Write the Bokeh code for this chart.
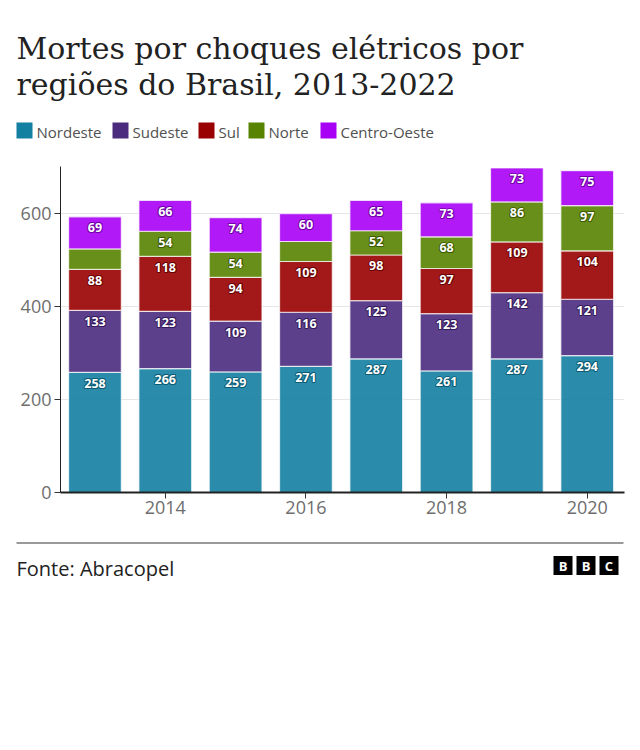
import numpy as np
from bokeh.plotting import figure
from bokeh.models import Range1d, FixedTicker, ColumnDataSource, Column, Row
from bokeh.core.properties import value
from bokeh.embed import file_html
from bokeh.resources import INLINE

# ---------------- data ----------------
years = [2013, 2014, 2015, 2016, 2017, 2018, 2019, 2020]
regions = ["Nordeste", "Sudeste", "Sul", "Norte", "Centro-Oeste"]
nordeste = [258, 266, 259, 271, 287, 261, 287, 294]
sudeste = [133, 123, 109, 116, 125, 123, 142, 121]
sul = [88, 118, 94, 109, 98, 97, 109, 104]
norte = [44, 54, 54, 43, 52, 68, 86, 97]
centro_oeste = [69, 66, 74, 60, 65, 73, 73, 75]
y_ticks = [0, 200, 400, 600]
x_ticks = [2014, 2016, 2018, 2020]
title_lines = ["Mortes por choques elétricos por", "regiões do Brasil, 2013-2022"]
source_text = "Fonte: Abracopel"
logo_letters = ["B", "B", "C"]

colors = ["#1380A1", "#4B2B7E", "#990000", "#588300", "#A800F5"]
shadow_colors = ["#0a5a72", "#33185a", "#660000", "#3a5800", "#7000a8"]

W = 640
SANS = value("Open Sans")


def blank(height):
    f = figure(width=W, height=height, x_range=Range1d(0, W), y_range=Range1d(height, 0),
               min_border=0, toolbar_location=None, output_backend="svg",
               x_axis_location=None, y_axis_location=None, outline_line_color=None)
    f.grid.visible = False
    return f


# ---------------- header (page y 0..158) ----------------
header = blank(158)
header.text(x=[16, 16], y=[47.5, 83.5], text=title_lines, text_font=value("DejaVu Serif"),
            text_font_size="30px", text_color="#222222", text_baseline="middle")
legend_x = [16, 112, 198, 248, 320]
header.rect(x=[lx + 8 for lx in legend_x], y=[130] * 5, width=16, height=16,
            fill_color=colors, line_color=None)
header.text(x=[lx + 20 for lx in legend_x], y=[131] * 5, text=regions, text_font=SANS,
            text_font_size="15px", text_color="#505050", text_baseline="middle")

# ---------------- main chart (page y 158..538) ----------------
p = figure(width=W, height=380, x_range=Range1d(2012.51, 2020.53), y_range=Range1d(0, 700),
           min_border_left=60, min_border_right=16, min_border_top=8, min_border_bottom=46,
           toolbar_location=None, output_backend="svg", outline_line_color=None)

series = [nordeste, sudeste, sul, norte, centro_oeste]
data = {"year": years}
for name, vals in zip(regions, series):
    data[name] = vals
src = ColumnDataSource(data)
p.vbar_stack(regions, x="year", width=0.75, source=src, fill_color=colors,
             fill_alpha=0.9, line_color="white", line_width=1.2, line_alpha=0.7)

tops = np.cumsum(np.array(series), axis=0)
lx, ly, lt, lc = [], [], [], []
for i, vals in enumerate(series):
    for j, v in enumerate(vals):
        if v >= 50:
            lx.append(years[j]); ly.append(int(tops[i][j])); lt.append(str(v)); lc.append(shadow_colors[i])
lab_src = ColumnDataSource(dict(x=lx, y=ly, text=lt, c=lc))
common = dict(x="x", y="y", text="text", source=lab_src, text_align="center",
              text_baseline="middle", text_font=SANS, text_font_size="12.5px",
              text_font_style="bold")
for dx, dy in [(-1, 0), (1, 0), (0, -1), (0, 1), (-0.8, -0.8), (0.8, 0.8), (-0.8, 0.8), (0.8, -0.8)]:
    p.text(x_offset=dx, y_offset=11 + dy, text_color="c", text_alpha=0.8, **common)
p.text(x_offset=0, y_offset=11, text_color="white", **common)

p.xgrid.visible = False
p.ygrid.ticker = FixedTicker(ticks=y_ticks[1:])
p.ygrid.grid_line_color = "#e6e6e6"
p.yaxis.ticker = FixedTicker(ticks=y_ticks)
p.xaxis.ticker = FixedTicker(ticks=x_ticks)
for ax in (p.xaxis[0], p.yaxis[0]):
    ax.major_tick_in = 0
    ax.major_tick_out = 6
    ax.minor_tick_line_color = None
    ax.major_label_text_font = "Open Sans"
    ax.major_label_text_font_size = "18px"
    ax.major_label_text_color = "#6e6e6e"
    ax.major_tick_line_color = "#333333"
p.yaxis.axis_line_color = "#222222"
p.yaxis.major_label_standoff = 3
p.xaxis.axis_line_color = "#222222"
p.xaxis.axis_line_width = 2
p.xaxis.major_label_standoff = 2

# ---------------- footer (page y 538..600) ----------------
footer = blank(62)
footer.segment(x0=[16], y0=[4.5], x1=[623], y1=[4.5], line_color="#777777", line_width=1.4)
footer.text(x=[16], y=[29.5], text=[source_text], text_font=SANS, text_font_size="20px",
            text_color="#222222", text_baseline="middle")
bx = [562.5, 585.5, 608.5]
footer.rect(x=bx, y=[27] * 3, width=19, height=19, fill_color="black", line_color=None)
footer.text(x=bx, y=[27.5] * 3, text=logo_letters, text_font=SANS, text_font_size="13px",
            text_font_style="bold", text_color="white", text_align="center",
            text_baseline="middle")

layout = Column(children=[Row(children=[header]), p, Row(children=[footer])], spacing=0)
open("out.html", "w").write(file_html(layout, INLINE))
